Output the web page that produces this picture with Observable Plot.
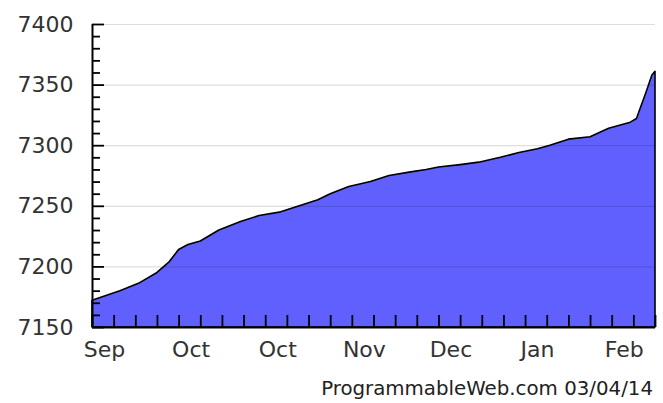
<!DOCTYPE html>
<html>
<head>
<meta charset="utf-8">
<script src="https://cdn.jsdelivr.net/npm/d3@7"></script>
<script src="https://cdn.jsdelivr.net/npm/@observablehq/plot@0.6"></script>
<style>
  html, body { margin: 0; padding: 0; background: #fff; }
  #wrap { position: relative; width: 663px; height: 403px; overflow: hidden; }
  #footer { position: absolute; right: 10px; top: 377px; font-family: "DejaVu Sans", Verdana, sans-serif; font-size: 19.8px; color: #222; white-space: nowrap; line-height: normal; }
</style>
</head>
<body>
<div id="wrap">
  <div id="chart"></div>
  <div id="footer">ProgrammableWeb.com 03/04/14</div>
</div>
<script>
// Data
const dates = ["2013-09-03","2013-09-12","2013-09-18","2013-09-24","2013-09-28","2013-10-01","2013-10-04","2013-10-08","2013-10-14","2013-10-21","2013-10-27","2013-11-03","2013-11-09","2013-11-15","2013-11-19","2013-11-25","2013-12-02","2013-12-08","2013-12-15","2013-12-20","2013-12-24","2013-12-31","2014-01-06","2014-01-13","2014-01-19","2014-01-25","2014-01-29","2014-02-04","2014-02-11","2014-02-17","2014-02-24","2014-02-26","2014-02-27","2014-03-01","2014-03-03","2014-03-04"];
const values = [7172,7180,7186,7195,7204,7214,7218,7221,7230,7237,7242,7245,7250,7255,7260,7266,7270,7275,7278,7280,7282,7284,7286,7290,7294,7297,7300,7305,7307,7314,7319,7322,7329,7343,7358,7361];

const yTicks = [7150, 7200, 7250, 7300, 7350, 7400];
const yMinorTicks = [7160,7170,7180,7190,7210,7220,7230,7240,7260,7270,7280,7290,7310,7320,7330,7340,7360,7370,7380,7390];
const xLabelDates = ["2013-09-03","2013-10-01","2013-10-29","2013-11-26","2013-12-24","2014-01-21","2014-02-18"];
const xLabels = ["Sep","Oct","Oct","Nov","Dec","Jan","Feb"];
const xDomain = ["2013-09-03","2014-03-04"];

const parse = d3.utcParse("%Y-%m-%d");
const data = dates.map((d, i) => ({date: parse(d), value: values[i]}));
const start = parse(xDomain[0]), end = parse(xDomain[1]);
const weekTicks = d3.utcTuesday.range(start, d3.utcDay.offset(end, 1));
const labelDates = xLabelDates.map(parse);

const W = 663, H = 370, ML = 92, MR = 8, MT = 24, MB = 43;
const frameW = W - ML - MR, frameH = H - MT - MB;

const chart = Plot.plot({
  width: W,
  height: H,
  marginLeft: ML,
  marginRight: MR,
  marginTop: MT,
  marginBottom: MB,
  style: {fontFamily: "DejaVu Sans, Verdana, sans-serif", background: "#fff"},
  x: {type: "utc", domain: [start, end]},
  y: {domain: [7150, 7400]},
  marks: [
    Plot.areaY(data, {x: "date", y1: 7150, y2: "value", fill: "#6060ff", stroke: "#000", strokeWidth: 1.6, curve: "linear"}),
    Plot.ruleY(yTicks.slice(1), {stroke: "#000", strokeOpacity: 0.13, strokeWidth: 1.2}),
    Plot.tickY(yTicks, {y: d => d, stroke: "#000", strokeWidth: 1.8, insetRight: frameW - 12}),
    Plot.tickY(yMinorTicks, {y: d => d, stroke: "#000", strokeWidth: 1.8, insetRight: frameW - 8}),
    Plot.tickX(weekTicks, {x: d => d, stroke: "#000", strokeWidth: 1.8, insetTop: frameH - 12}),
    Plot.ruleX([start], {stroke: "#000", strokeWidth: 2}),
    Plot.ruleY([7150], {stroke: "#000", strokeWidth: 2}),
    Plot.axisY(yTicks, {tickSize: 0, tickPadding: 19, fontSize: 22, fill: "#333", label: null, tickFormat: d3.format("d")}),
    Plot.axisX(labelDates, {tickSize: 0, tickPadding: 14, fontSize: 22, fill: "#333", dx: 12, label: null,
      tickFormat: (d) => xLabels[labelDates.findIndex(t => +t === +d)]})
  ]
});
document.getElementById("chart").appendChild(chart);
</script>
</body>
</html>
